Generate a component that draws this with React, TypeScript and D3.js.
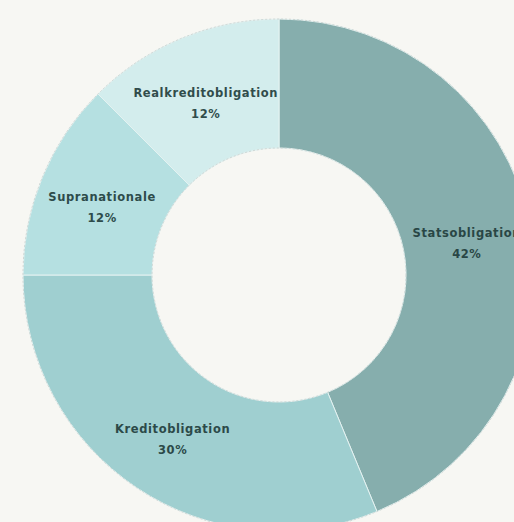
import React from "react";
import * as d3 from "d3";

const categories = ["Statsobligation", "Kreditobligation", "Supranationale", "Realkreditobligation"];
const values = [42, 30, 12, 12];
const colors = ["#86aead", "#9fcfd0", "#b5e0e1", "#d3eded"];

const W = 514;
const H = 522;
const cx = 279;
const cy = 275;
const outerR = 256;
const innerR = 127;

export default function App() {
  const data = categories.map((c, i) => ({ name: c, value: values[i], color: colors[i] }));
  const pie = d3.pie<any>().value((d: any) => d.value).sort(null);
  const arcs = pie(data);
  const arc = d3.arc<any>().innerRadius(innerR).outerRadius(outerR);
  return (
    <svg
      width={W}
      height={H}
      style={{ position: "absolute", left: 0, top: 0, display: "block" }}
    >
      <rect width={W} height={H} fill="#f7f7f3" />
      <g transform={`translate(${cx},${cy})`}>
        {arcs.map((a, i) => (
          <path key={i} d={arc(a) as string} fill={a.data.color} stroke="#e4f2f1" strokeWidth={1} />
        ))}
        <circle r={outerR} fill="none" stroke="#c9cfcd" strokeWidth={0.8} strokeDasharray="2 2" />
        <circle r={innerR} fill="none" stroke="#c9cfcd" strokeWidth={0.8} strokeDasharray="2 2" />
        {arcs.map((a, i) => {
          const [x, y] = arc.centroid(a);
          return (
            <text
              key={"t" + i}
              x={x}
              y={y}
              textAnchor="middle"
              fontFamily="'DejaVu Sans', sans-serif"
              fontWeight={700}
              fontSize={11.5}
              letterSpacing={0.6}
              fill="#203b3a"
              opacity={0.9}
            >
              <tspan x={x} dy={-1}>{a.data.name}</tspan>
              <tspan x={x} dy={21}>{a.data.value + "%"}</tspan>
            </text>
          );
        })}
      </g>
    </svg>
  );
}
